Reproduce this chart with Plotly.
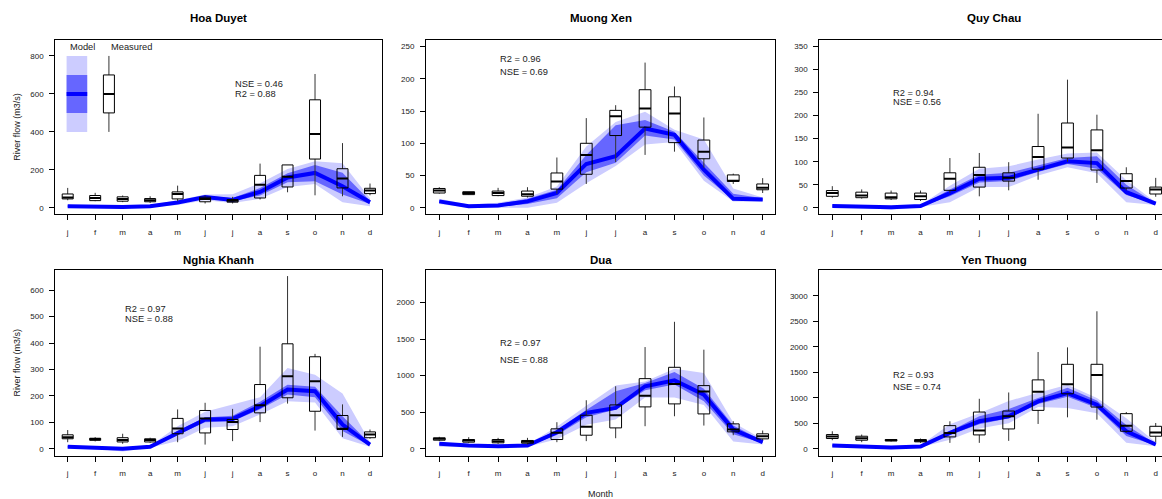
import plotly.graph_objects as go

# ---------------- data ----------------
months = ['j', 'f', 'm', 'a', 'm', 'j', 'j', 'a', 's', 'o', 'n', 'd']
month_pos = list(range(1, 13))
stations = ['Hoa Duyet', 'Muong Xen', 'Quy Chau', 'Nghia Khanh', 'Dua', 'Yen Thuong']

# Hoa Duyet
hd_meas_min = [40, 35, 30, 26, 35, 23, 23, 44, 82, 66, 61, 66]
hd_meas_q1 = [47, 38, 35, 32, 47, 32, 30, 52, 110, 257, 105, 75]
hd_meas_med = [55, 52, 47, 40, 73, 47, 37, 121, 164, 389, 154, 91]
hd_meas_q3 = [73, 65, 58, 49, 84, 56, 44, 171, 226, 569, 206, 103]
hd_meas_max = [105, 79, 65, 61, 117, 65, 58, 233, 226, 705, 341, 128]
hd_mod_med = [9, 5, 4, 9, 28, 57, 42, 84, 160, 184, 114, 30]
hd_mod_in_lo = [6, 2, 1, 6, 22, 48, 35, 65, 135, 140, 70, 20]
hd_mod_in_hi = [13, 8, 6, 12, 34, 64, 52, 105, 182, 225, 185, 38]
hd_mod_out_lo = [3, 0, 0, 3, 15, 40, 25, 48, 110, 126, 30, 8]
hd_mod_out_hi = [16, 10, 8, 15, 40, 70, 72, 130, 205, 245, 235, 50]

# Muong Xen
mx_meas_min = [22, 20, 18, 16, 22, 37, 71, 82, 87, 62, 37, 23]
mx_meas_q1 = [23, 20.5, 19, 18, 29, 52, 112, 125, 101, 76, 41, 28]
mx_meas_med = [27, 23, 23, 21, 41, 82, 142, 154, 146, 87, 42, 31]
mx_meas_q3 = [30, 25, 26, 26, 54, 100, 151, 183, 172, 105, 51, 37]
mx_meas_max = [32, 25, 31, 32, 78, 139, 159, 225, 188, 140, 53, 46]
mx_mod_med = [10, 2.5, 3.6, 10, 23, 68, 80, 123, 113, 59, 14, 13]
mx_mod_in_lo = [8, 1, 2, 6, 15, 55, 70, 112, 106, 50, 12, 11]
mx_mod_in_hi = [12, 4, 6, 14, 28, 82, 128, 136, 118, 70, 22, 15]
mx_mod_out_lo = [6, 0, 0, 0, 8, 38, 65, 98, 102, 42, 10, 10]
mx_mod_out_hi = [14, 5, 8, 16, 33, 95, 133, 149, 121, 106, 30, 16]

# Quy Chau
qc_meas_min = [22, 20, 17, 15, 32, 25, 38, 61, 100, 54, 38, 24]
qc_meas_q1 = [25, 22, 19.5, 18, 38, 45, 58, 84, 108, 82, 43, 30]
qc_meas_med = [32, 27, 23, 25, 63, 71, 65, 110, 131, 125, 58, 40]
qc_meas_q3 = [37.5, 34, 32, 32, 76, 88, 76, 133, 184, 169, 74, 45]
qc_meas_max = [47, 40, 37.5, 37.5, 108, 119, 99, 204, 278, 202, 88, 65]
qc_mod_med = [4, 2, 1.5, 4, 32, 63, 65, 83, 101, 97, 34, 9]
qc_mod_in_lo = [3, 1, 0, 3, 25, 55, 58, 78, 95, 85, 28, 8]
qc_mod_in_hi = [5, 3, 3, 5, 40, 72, 76, 92, 108, 112, 50, 10]
qc_mod_out_lo = [2, 0, -4, 2, 12, 45, 45, 70, 88, 75, 12, 6]
qc_mod_out_hi = [7, 4, 4, 6, 48, 85, 90, 105, 118, 120, 60, 12]

# Nghia Khanh
nk_meas_min = [25, 28, 19, 23, 25, 16, 29, 101, 171, 69, 45, 38]
nk_meas_q1 = [38, 32, 26, 26, 57, 60, 73, 136, 193, 142, 73, 42]
nk_meas_med = [44, 37, 33, 33, 77, 115, 101, 165, 274, 255, 76, 54]
nk_meas_q3 = [53, 40, 42, 38, 115, 145, 111, 243, 397, 348, 126, 64]
nk_meas_max = [71, 44, 57, 42, 149, 174, 151, 386, 653, 359, 168, 73]
nk_mod_med = [8, 4, 0, 8, 60, 111, 113, 161, 224, 218, 92, 16]
nk_mod_in_lo = [6, 2, -2, 6, 52, 100, 104, 150, 205, 195, 67, 12]
nk_mod_in_hi = [10, 6, 3, 10, 68, 118, 125, 178, 242, 235, 123, 20]
nk_mod_out_lo = [4, 0, -10, 4, 30, 80, 85, 130, 180, 175, 40, 8]
nk_mod_out_hi = [12, 7, 6, 12, 85, 140, 168, 195, 306, 280, 209, 25]

# Dua
du_meas_min = [105, 82, 68, 59, 91, 105, 145, 309, 445, 318, 186, 118]
du_meas_q1 = [118, 91, 82, 77, 127, 186, 286, 573, 614, 477, 232, 136]
du_meas_med = [136, 114, 105, 95, 218, 300, 459, 727, 886, 782, 264, 173]
du_meas_q3 = [150, 127, 127, 114, 273, 459, 600, 959, 1114, 864, 341, 205]
du_meas_max = [164, 159, 150, 150, 364, 664, 855, 1391, 1736, 1355, 377, 250]
du_mod_med = [68, 45, 36, 45, 227, 491, 559, 855, 936, 741, 264, 91]
du_mod_in_lo = [55, 38, 30, 38, 190, 430, 536, 800, 880, 650, 200, 80]
du_mod_in_hi = [75, 50, 42, 50, 260, 530, 786, 900, 1050, 820, 320, 110]
du_mod_out_lo = [30, 20, 15, 30, 130, 330, 400, 700, 700, 600, 100, 60]
du_mod_out_hi = [90, 60, 50, 60, 300, 590, 864, 920, 1095, 1036, 360, 130]

# Yen Thuong
yt_meas_min = [169, 130, 143, 117, 117, 117, 156, 488, 618, 572, 312, 130]
yt_meas_q1 = [202, 169, 156, 137, 234, 273, 390, 755, 1080, 820, 345, 247]
yt_meas_med = [241, 208, 169, 156, 312, 358, 638, 1119, 1269, 1451, 455, 319]
yt_meas_q3 = [280, 247, 182, 182, 455, 722, 742, 1353, 1659, 1659, 690, 442]
yt_meas_max = [345, 280, 182, 202, 540, 982, 1106, 1900, 1991, 2700, 722, 507]
yt_mod_med = [65, 39, 26, 46, 312, 540, 638, 930, 1093, 865, 345, 85]
yt_mod_in_lo = [55, 30, 20, 40, 270, 480, 600, 880, 1020, 800, 250, 70]
yt_mod_in_hi = [75, 50, 35, 55, 340, 640, 780, 1000, 1200, 950, 470, 100]
yt_mod_out_lo = [30, 10, 0, 30, 180, 400, 500, 820, 800, 700, 120, 50]
yt_mod_out_hi = [100, 70, 50, 70, 480, 700, 940, 1100, 1260, 1000, 600, 130]

stat_texts = [
    [("NSE = 0.46", 7, 650), ("R2 = 0.88", 7, 600)],
    [("R2 = 0.96", 3, 230), ("NSE = 0.69", 3, 210)],
    [("R2 = 0.94", 3, 250), ("NSE = 0.56", 3, 230)],
    [("R2 = 0.97", 3, 530), ("NSE = 0.88", 3, 490)],
    [("R2 = 0.97", 3, 1440), ("NSE = 0.88", 3, 1220)],
    [("R2 = 0.93", 3, 1450), ("NSE = 0.74", 3, 1220)],
]
y_tick_vals = [
    [0, 200, 400, 600, 800],
    [0, 50, 100, 150, 200, 250],
    [0, 50, 100, 150, 200, 250, 300, 350],
    [0, 100, 200, 300, 400, 500, 600],
    [0, 500, 1000, 1500, 2000],
    [0, 500, 1000, 1500, 2000, 2500, 3000],
]

# legend sample values (Hoa Duyet panel)
legend_model = dict(out_lo=400, out_hi=800, in_lo=500, in_hi=700, med=600)
legend_meas_x = [2.5]
legend_meas_min = [400]
legend_meas_q1 = [500]
legend_meas_med = [600]
legend_meas_q3 = [700]
legend_meas_max = [800]

panels = [
    (hd_meas_min, hd_meas_q1, hd_meas_med, hd_meas_q3, hd_meas_max,
     hd_mod_med, hd_mod_in_lo, hd_mod_in_hi, hd_mod_out_lo, hd_mod_out_hi),
    (mx_meas_min, mx_meas_q1, mx_meas_med, mx_meas_q3, mx_meas_max,
     mx_mod_med, mx_mod_in_lo, mx_mod_in_hi, mx_mod_out_lo, mx_mod_out_hi),
    (qc_meas_min, qc_meas_q1, qc_meas_med, qc_meas_q3, qc_meas_max,
     qc_mod_med, qc_mod_in_lo, qc_mod_in_hi, qc_mod_out_lo, qc_mod_out_hi),
    (nk_meas_min, nk_meas_q1, nk_meas_med, nk_meas_q3, nk_meas_max,
     nk_mod_med, nk_mod_in_lo, nk_mod_in_hi, nk_mod_out_lo, nk_mod_out_hi),
    (du_meas_min, du_meas_q1, du_meas_med, du_meas_q3, du_meas_max,
     du_mod_med, du_mod_in_lo, du_mod_in_hi, du_mod_out_lo, du_mod_out_hi),
    (yt_meas_min, yt_meas_q1, yt_meas_med, yt_meas_q3, yt_meas_max,
     yt_mod_med, yt_mod_in_lo, yt_mod_in_hi, yt_mod_out_lo, yt_mod_out_hi),
]

# ---------------- layout geometry ----------------
W, H = 1162, 499
col_px = [(55.3, 382.0), (426.0, 775.3), (819.3, 1162.0)]
row_px = [(40.0, 214.3), (270.0, 455.7)]
x_ranges = [[0.549, 12.437], [0.548, 12.43], [0.558, 12.214]]
y_ranges = [[-34, 884], [-10, 260], [-14, 364], [-26, 676], [-94, 2444], [-135, 3510]]

FONT = "Liberation Sans, Arial, Helvetica, sans-serif"
OUTER = "#ccccff"
INNER = "#6666ff"
LINE = "#0000ff"
BOXW = 0.4


def boxplot_traces(xs, mn, q1, md, q3, mx, xa, ya):
    """Box outlines, whiskers and medians drawn as line paths (on top of bands)."""
    bx, by, wx, wy, mxs, mys = [], [], [], [], [], []
    h = BOXW / 2
    for x, a, b, m, c, d in zip(xs, mn, q1, md, q3, mx):
        bx += [x - h, x + h, x + h, x - h, x - h, None]
        by += [b, b, c, c, b, None]
        wx += [x, x, None, x, x, None]
        wy += [c, d, None, b, a, None]
        mxs += [x - h, x + h, None]
        mys += [m, m, None]
    return [
        go.Scatter(x=wx, y=wy, mode="lines", line=dict(color="#333", width=1),
                   xaxis=xa, yaxis=ya, hoverinfo="skip"),
        go.Scatter(x=bx, y=by, mode="lines", line=dict(color="black", width=1),
                   xaxis=xa, yaxis=ya, hoverinfo="skip"),
        go.Scatter(x=mxs, y=mys, mode="lines", line=dict(color="black", width=2),
                   xaxis=xa, yaxis=ya, hoverinfo="skip"),
    ]


fig = go.Figure()
layout = dict(
    width=W, height=H, margin=dict(l=0, r=0, t=0, b=0),
    paper_bgcolor="white", plot_bgcolor="white", showlegend=False,
    font=dict(family=FONT, color="#222"),
    annotations=[], shapes=[],
)

for i, p in enumerate(panels):
    mn, q1, md, q3, mx, mmed, ilo, ihi, olo, ohi = p
    r, c = divmod(i, 3)
    xa = "x" if i == 0 else f"x{i+1}"
    ya = "y" if i == 0 else f"y{i+1}"
    xkey = "xaxis" if i == 0 else f"xaxis{i+1}"
    ykey = "yaxis" if i == 0 else f"yaxis{i+1}"
    x0p, x1p = col_px[c]
    y0p, y1p = row_px[r]
    right_cut = (c == 2)
    layout[xkey] = dict(
        domain=[x0p / W, x1p / W], anchor=ya, range=x_ranges[c],
        tickvals=month_pos, ticktext=months, ticks="outside", ticklen=5,
        tickcolor="black", tickwidth=1, showgrid=False, zeroline=False,
        showline=True, mirror=True, linecolor="black", linewidth=1,
        tickfont=dict(size=8, family=FONT, color="#222"), ticklabelstandoff=5,
    )
    layout[ykey] = dict(
        domain=[1 - y1p / H, 1 - y0p / H], anchor=xa, range=y_ranges[i],
        tickvals=y_tick_vals[i], ticks="outside", ticklen=5,
        tickcolor="black", tickwidth=1, showgrid=False, zeroline=False,
        showline=True, mirror=(not right_cut), linecolor="black", linewidth=1,
        tickfont=dict(size=8, family=FONT, color="#222"), ticklabelstandoff=4,
    )
    # model bands
    fig.add_trace(go.Scatter(x=month_pos, y=olo, mode="lines", line=dict(width=0),
                             xaxis=xa, yaxis=ya, hoverinfo="skip"))
    fig.add_trace(go.Scatter(x=month_pos, y=ohi, mode="lines", line=dict(width=0),
                             fill="tonexty", fillcolor=OUTER, xaxis=xa, yaxis=ya,
                             hoverinfo="skip"))
    fig.add_trace(go.Scatter(x=month_pos, y=ilo, mode="lines", line=dict(width=0),
                             xaxis=xa, yaxis=ya, hoverinfo="skip"))
    fig.add_trace(go.Scatter(x=month_pos, y=ihi, mode="lines", line=dict(width=0),
                             fill="tonexty", fillcolor=INNER, xaxis=xa, yaxis=ya,
                             hoverinfo="skip"))
    fig.add_trace(go.Scatter(x=month_pos, y=mmed, mode="lines",
                             line=dict(width=4, color=LINE), xaxis=xa, yaxis=ya))
    # measured boxplots
    for t in boxplot_traces(month_pos, mn, q1, md, q3, mx, xa, ya):
        fig.add_trace(t)
    # title
    xc = (x0p + (x1p if not right_cut else 1168.6)) / 2
    layout["annotations"].append(dict(
        text=f"<b>{stations[i]}</b>", xref="paper", yref="paper",
        x=xc / W, y=1 - (18.3 if r == 0 else 260.0) / H, xanchor="center",
        yanchor="middle", showarrow=False, font=dict(size=11.5, family=FONT, color="black")))
    for txt, tx, ty in stat_texts[i]:
        layout["annotations"].append(dict(
            text=txt, xref=xa, yref=ya, x=tx, y=ty, xanchor="left", yanchor="middle",
            showarrow=False, font=dict(size=9.3, family=FONT, color="#222")))
    if c == 0:
        layout["annotations"].append(dict(
            text="River flow (m3/s)", xref="paper", yref="paper", x=16.7 / W,
            y=1 - (y0p + y1p) / 2 / H, xanchor="center", yanchor="middle",
            textangle=-90, showarrow=False, font=dict(size=9, family=FONT, color="#222")))

# legend in first panel
lx0, lx1 = 0.96, 1.71
layout["shapes"] += [
    dict(type="rect", xref="x", yref="y", x0=lx0, x1=lx1, y0=legend_model["out_lo"],
         y1=legend_model["out_hi"], fillcolor=OUTER, line=dict(width=0), layer="below"),
    dict(type="rect", xref="x", yref="y", x0=lx0, x1=lx1, y0=legend_model["in_lo"],
         y1=legend_model["in_hi"], fillcolor=INNER, line=dict(width=0), layer="below"),
    dict(type="line", xref="x", yref="y", x0=lx0, x1=lx1, y0=legend_model["med"],
         y1=legend_model["med"], line=dict(color=LINE, width=4)),
]
for t in boxplot_traces(legend_meas_x, legend_meas_min, legend_meas_q1, legend_meas_med,
                        legend_meas_q3, legend_meas_max, "x", "y"):
    fig.add_trace(t)
layout["annotations"] += [
    dict(text="Model", xref="x", yref="y", x=1.0, y=848, xanchor="left", yanchor="middle",
         showarrow=False, font=dict(size=9.3, family=FONT, color="#222")),
    dict(text="Measured", xref="x", yref="y", x=2.5, y=848, xanchor="left", yanchor="middle",
         showarrow=False, font=dict(size=9.3, family=FONT, color="#222")),
    dict(text="Month", xref="paper", yref="paper", x=600.7 / W, y=1 - 494 / H,
         xanchor="center", yanchor="middle", showarrow=False,
         font=dict(size=9, family=FONT, color="#222")),
]

fig.update_layout(**layout)
fig.write_html("out.html")
